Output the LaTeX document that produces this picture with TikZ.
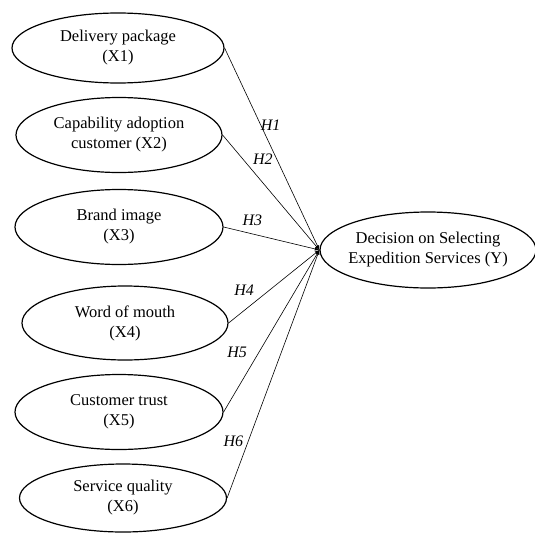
\documentclass[tikz,border=0pt]{standalone}
\usepackage{fontspec}
\setmainfont{Liberation Serif}
\usetikzlibrary{shapes.geometric}

\begin{document}
\begin{tikzpicture}[x=1pt, y=-1pt,
  latent/.style={ellipse, draw, black, line width=1.2pt, inner sep=0pt,
    minimum width=208pt, minimum height=74pt, align=center,
    font=\fontsize{16.5}{20}\selectfont},
  hpath/.style={-latex, black, line width=0.6pt},
  hyp/.style={font=\fontsize{16}{19}\selectfont\itshape, inner sep=0pt}]

\useasboundingbox (0,0) rectangle (535,533);

% independent variables on the left
\path
(118,48) node[latent, minimum width=212pt, minimum height=70pt](x1) {Delivery package\\(X1)}
(119,135) node[latent, minimum width=206pt, minimum height=75pt](x2) {Capability adoption\\customer (X2)}
(119,227) node[latent, minimum width=208pt, minimum height=75pt](x3) {Brand image\\(X3)}
(125,323) node[latent, minimum width=206pt, minimum height=74pt](x4) {Word of mouth\\(X4)}
(119,412) node[latent, minimum width=208pt, minimum height=75pt](x5) {Customer trust\\(X5)}
(123,498) node[latent, minimum width=207pt, minimum height=68pt](x6) {Service quality\\(X6)};

% dependent variable
\path
(428,250) node[latent, inner xsep=-10pt, minimum width=216pt, minimum height=76pt](y) {Decision on Selecting\\Expedition Services (Y)};

%% hypotheses paths
\draw[hpath] (x1.east) -- node[hyp, pos=0.38, xshift=10pt]{H1} (y.west);
\draw[hpath] (x2.east) -- node[hyp, pos=0.21, xshift=20pt]{H2} (y.west);
\draw[hpath] (x3.east) -- node[hyp, pos=0.30, yshift=14pt]{H3} (y.west);
\draw[hpath] (x4.east) -- node[hyp, pos=0.17, yshift=20pt]{H4} (y.west);
\draw[hpath] (x5.east) -- node[hyp, pos=0.37, xshift=-22pt]{H5} (y.west);
\draw[hpath] (x6.east) -- node[hyp, pos=0.23, xshift=-15pt]{H6} (y.west);

\end{tikzpicture}
\end{document}
